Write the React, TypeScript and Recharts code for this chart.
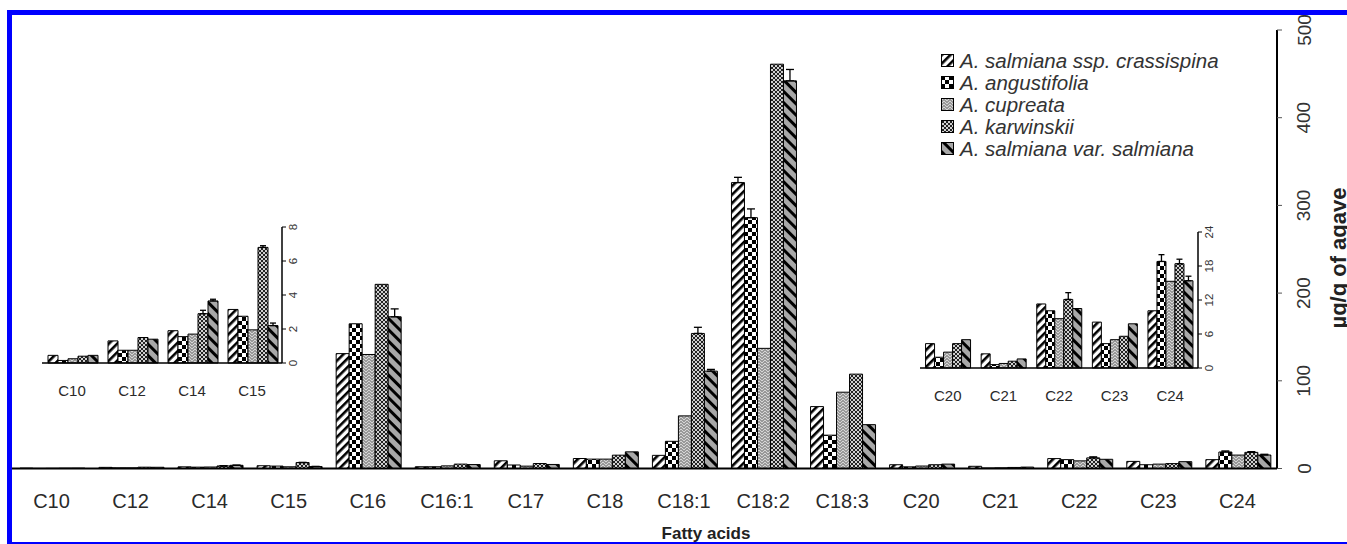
import React from "react";
import {
  BarChart,
  Bar,
  XAxis,
  YAxis,
  Legend,
  ErrorBar,
  Label,
} from "recharts";

const CATEGORIES = ["C10", "C12", "C14", "C15", "C16", "C16:1", "C17", "C18", "C18:1", "C18:2", "C18:3", "C20", "C21", "C22", "C23", "C24"];

// µg/g of agave, one value per fatty acid
const CRASSISPINA = [0.45, 1.3, 1.9, 3.15, 131, 2, 8.8, 11.4, 15, 326, 70.6, 4.3, 2.5, 11.3, 8.1, 10.1];
const ANGUSTIFOLIA = [0.15, 0.75, 1.55, 2.75, 165, 2, 4, 10.7, 31, 286, 38, 1.9, 0.6, 10.1, 4.3, 18.8];
const CUPREATA = [0.25, 0.75, 1.7, 1.95, 130, 3, 2.7, 10.7, 60, 137, 87, 2.8, 0.8, 8.7, 5.0, 15.3];
const KARWINSKII = [0.4, 1.5, 2.9, 6.8, 210, 5, 5.7, 15.2, 154, 461, 107.6, 4.3, 1.2, 12.1, 5.6, 18.4];
const SALMIANA = [0.45, 1.4, 3.65, 2.2, 173, 4.5, 4.6, 19, 111, 442, 50, 5.0, 1.6, 10.5, 7.8, 15.4];

// upper error only (0 = none drawn)
const ERR_CRASSISPINA = [0, 0, 0, 0, 0, 0, 0, 0, 0, 6, 0, 0, 0, 0, 0, 0];
const ERR_ANGUSTIFOLIA = [0, 0, 0, 0, 0, 0, 0, 0, 0, 10, 0, 0, 0, 0, 0, 1.2];
const ERR_CUPREATA = [0, 0, 0, 0, 0, 0, 0, 0, 0, 0, 0, 0, 0, 0, 0, 0];
const ERR_KARWINSKII = [0, 0, 0.2, 0.1, 0, 0, 0, 0, 7, 0, 0, 0, 0, 1.2, 0, 0.8];
const ERR_SALMIANA = [0, 0, 0.1, 0.15, 9, 0, 0, 0, 2, 13, 0, 0, 0, 0, 0, 0.8];

const MAIN_TICKS = [0, 100, 200, 300, 400, 500];
const LEFT_INSET_TICKS = [0, 2, 4, 6, 8];
const RIGHT_INSET_TICKS = [0, 6, 12, 18, 24];

const SERIES = [
  { key: "s0", err: "e0", name: "A. salmiana ssp. crassispina", fill: "url(#pCrass)", values: CRASSISPINA, errs: ERR_CRASSISPINA },
  { key: "s1", err: "e1", name: "A. angustifolia", fill: "url(#pAng)", values: ANGUSTIFOLIA, errs: ERR_ANGUSTIFOLIA },
  { key: "s2", err: "e2", name: "A. cupreata", fill: "url(#pCup)", values: CUPREATA, errs: ERR_CUPREATA },
  { key: "s3", err: "e3", name: "A. karwinskii", fill: "url(#pKar)", values: KARWINSKII, errs: ERR_KARWINSKII },
  { key: "s4", err: "e4", name: "A. salmiana var. salmiana", fill: "url(#pSal)", values: SALMIANA, errs: ERR_SALMIANA },
];

const rows = CATEGORIES.map((cat, i) => {
  const row: any = { cat };
  SERIES.forEach((s) => {
    row[s.key] = s.values[i];
    row[s.err] = s.errs[i] ? [0, s.errs[i]] : null;
  });
  return row;
});

const leftRows = rows.slice(0, 4);
const rightRows = rows.slice(11, 16);

const FONT = "'Liberation Sans', Arial, sans-serif";

const Patterns = () => (
  <svg width={0} height={0} style={{ position: "absolute" }}>
    <defs>
      <pattern id="pCrass" width={6} height={6} patternUnits="userSpaceOnUse" patternTransform="rotate(45)">
        <rect width={6} height={6} fill="#fff" />
        <rect width={2.6} height={6} fill="#000" />
      </pattern>
      <pattern id="pAng" width={8} height={8} patternUnits="userSpaceOnUse">
        <rect width={8} height={8} fill="#fff" />
        <rect width={4} height={4} fill="#000" />
        <rect x={4} y={4} width={4} height={4} fill="#000" />
      </pattern>
      <pattern id="pCup" width={6} height={6} patternUnits="userSpaceOnUse">
        <rect width={6} height={6} fill="#999" />
        <path d="M0 3 L3 0 L6 3 M0 6 L3 3 L6 6" stroke="#e6e6e6" strokeWidth={0.8} fill="none" />
      </pattern>
      <pattern id="pKar" width={4} height={4} patternUnits="userSpaceOnUse">
        <rect width={4} height={4} fill="#d0d0d0" />
        <path d="M0 0 L4 4 M4 0 L0 4" stroke="#222" strokeWidth={1} />
      </pattern>
      <pattern id="pSal" width={8} height={8} patternUnits="userSpaceOnUse" patternTransform="rotate(-45)">
        <rect width={8} height={8} fill="#a8a8a8" />
        <rect width={3} height={8} fill="#000" />
      </pattern>
    </defs>
  </svg>
);

const makeXTick = (size: number) => (props: any) => {
  const { x, y, payload } = props;
  return (
    <text x={x} y={y} textAnchor="middle" dominantBaseline="central" fontSize={size} fill="#2a2a2a" fontFamily={FONT}>
      {payload.value}
    </text>
  );
};

const makeYTick = (size: number) => (props: any) => {
  const { x, y, payload } = props;
  return (
    <text
      x={x}
      y={y}
      transform={`rotate(-90 ${x} ${y})`}
      textAnchor="middle"
      dominantBaseline="central"
      fontSize={size}
      fill="#333"
      fontFamily={FONT}
    >
      {payload.value}
    </text>
  );
};

const renderLegend = () => (
  <div style={{ fontFamily: FONT, fontStyle: "italic", fontSize: 20.5, color: "#333" }}>
    {SERIES.map((s) => (
      <div key={s.key} style={{ display: "flex", alignItems: "center", height: 22, whiteSpace: "nowrap" }}>
        <svg width={14} height={14} style={{ marginRight: 5 }}>
          <rect x={0.5} y={0.5} width={12} height={12} fill={s.fill} stroke="#000" />
        </svg>
        {s.name}
      </div>
    ))}
  </div>
);

const renderBars = (errWidth: number) =>
  SERIES.map((s) => (
    <Bar
      key={s.key}
      dataKey={s.key}
      name={s.name}
      fill={s.fill}
      stroke="#000"
      strokeWidth={1}
      isAnimationActive={false}
    >
      <ErrorBar dataKey={s.err} width={errWidth} stroke="#000" strokeWidth={1.3} direction="y" />
    </Bar>
  ));

function Inset({ data, left, top, width, ticks, max }: any) {
  return (
    <div style={{ position: "absolute", left, top }}>
      <BarChart
        width={width}
        height={186}
        data={data}
        margin={{ top: 10, right: 0, bottom: 0, left: 12 }}
        barCategoryGap="10%"
        barGap={0}
      >
        <XAxis
          dataKey="cat"
          tickLine={false}
          tickSize={0}
          tickMargin={27}
          height={40}
          axisLine={{ stroke: "#000", strokeWidth: 1.5 }}
          tick={makeXTick(15)}
          interval={0}
        />
        <XAxis xAxisId="top" dataKey="cat" orientation="top" height={0} tick={false} tickLine={false} axisLine={{ stroke: "#000", strokeWidth: 1.5 }} />
        <YAxis yAxisId="frame" orientation="left" width={0} domain={[0, max]} type="number" tick={false} tickLine={false} axisLine={{ stroke: "#000", strokeWidth: 1.5 }} />
        <YAxis
          orientation="right"
          domain={[0, max]}
          ticks={ticks}
          width={30}
          tickSize={4}
          tickMargin={7}
          axisLine={{ stroke: "#000", strokeWidth: 1.5 }}
          tickLine={{ stroke: "#000" }}
          tick={makeYTick(11.5)}
        />
        {renderBars(3)}
      </BarChart>
    </div>
  );
}

export default function App() {
  return (
    <div style={{ position: "absolute", left: 0, top: 0, width: 1347, height: 544, background: "#fff", overflow: "hidden" }}>
      <Patterns />
      <div style={{ position: "absolute", left: 0, top: 0 }}>
        <BarChart
          width={1347}
          height={544}
          data={rows}
          margin={{ top: 30, right: 0, bottom: 0, left: 12 }}
          barCategoryGap="10%"
          barGap={0}
        >
          <XAxis
            dataKey="cat"
            tickLine={false}
            tickSize={0}
            tickMargin={32}
            height={75.5}
            axisLine={{ stroke: "#000", strokeWidth: 2 }}
            tick={makeXTick(20)}
            interval={0}
          >
            <Label
              content={() => (
                <text x={706} y={539} textAnchor="middle" fontSize={17} fontWeight="bold" fill="#222" fontFamily={FONT}>
                  Fatty acids
                </text>
              )}
            />
          </XAxis>
          <XAxis xAxisId="top" dataKey="cat" orientation="top" height={0} tick={false} tickLine={false} axisLine={{ stroke: "#000", strokeWidth: 2.5 }} />
          <YAxis
            orientation="right"
            domain={[0, 500]}
            ticks={MAIN_TICKS}
            width={70}
            tickSize={5}
            tickMargin={22}
            axisLine={{ stroke: "#000", strokeWidth: 2 }}
            tickLine={{ stroke: "#555" }}
            tick={makeYTick(19)}
          >
            <Label
              content={() => (
                <text
                  x={1338}
                  y={258}
                  transform="rotate(-90 1338 258)"
                  textAnchor="middle"
                  dominantBaseline="central"
                  fontSize={22}
                  fontWeight="bold"
                  fill="#222"
                  fontFamily={FONT}
                >
                  µg/g of agave
                </text>
              )}
            />
          </YAxis>
          <Legend
            layout="vertical"
            align="center"
            verticalAlign="middle"
            content={renderLegend}
            wrapperStyle={{ left: 941, top: 50, width: 320 }}
          />
          {renderBars(4)}
        </BarChart>
      </div>
      <Inset data={leftRows} left={30} top={217} width={282} ticks={LEFT_INSET_TICKS} max={8} />
      <Inset data={rightRows} left={908} top={222} width={320} ticks={RIGHT_INSET_TICKS} max={24} />
      <div style={{ position: "absolute", left: 7, top: 10, width: 1340, height: 5, background: "#0000ff" }} />
      <div style={{ position: "absolute", left: 7, top: 10, width: 5, height: 534, background: "#0000ff" }} />
      <div style={{ position: "absolute", left: 7, top: 542, width: 1340, height: 2, background: "#0000ff" }} />
    </div>
  );
}
